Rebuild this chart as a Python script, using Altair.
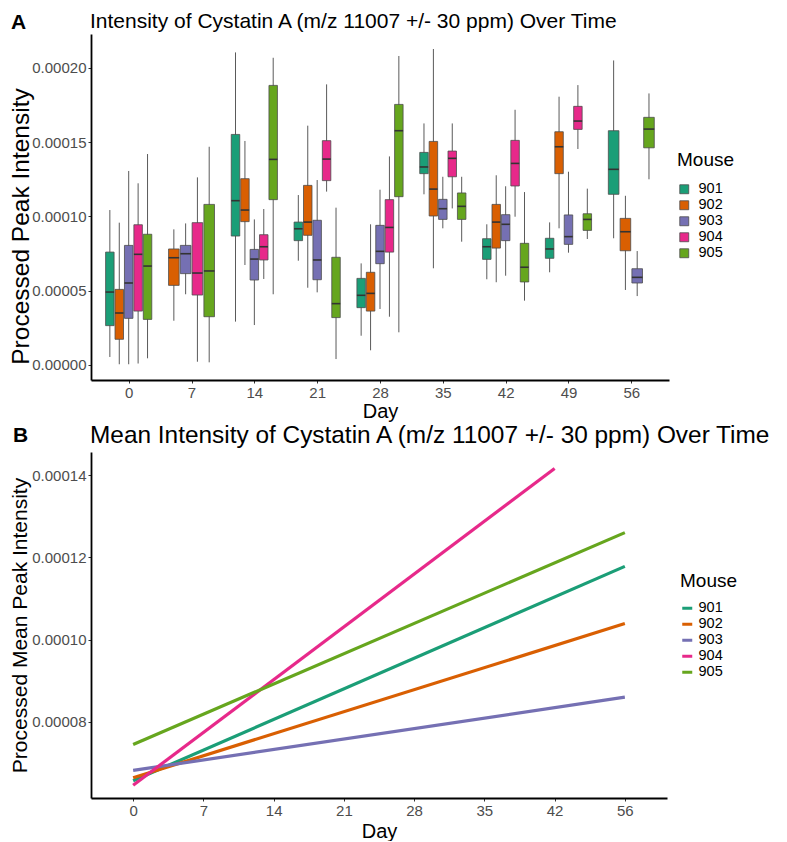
import altair as alt
import pandas as pd

SCALE = 1e-5  # values below are in units of 1e-5
DAYS = [0, 7, 14, 21, 28, 35, 42, 49, 56]
MICE = ["901", "902", "903", "904", "905"]
COLORS = ["#1B9E77", "#D95F02", "#7570B3", "#E7298A", "#66A61E"]

# Box plot statistics, one row per day (DAYS order), columns in MICE order; None = no data
LOWER = [
    [0.54, 0.05, 0.05, 0.10, 0.45],
    [None, 2.98, 4.76, 0.22, 0.18],
    [2.92, 6.73, 2.69, 5.79, 4.76],
    [7.02, 5.20, 4.89, 11.67, 0.40],
    [1.97, 0.99, 3.77, 3.25, 2.20],
    [11.49, 6.51, 9.20, 10.54, 8.30],
    [5.77, 5.57, 6.01, 9.98, 4.33],
    [6.24, 9.20, 7.56, 14.54, 8.48],
    [8.53, 5.05, 4.64, None, 12.50],
]
Q1 = [
    [2.65, 1.73, 3.14, 3.63, 3.07],
    [None, 5.36, 6.15, 4.71, 3.25],
    [8.68, 9.65, 5.72, 7.07, 11.13],
    [8.37, 8.73, 5.74, 12.41, 3.19],
    [3.86, 3.63, 6.82, 7.60, 11.33],
    [12.88, 10.03, 9.80, 12.67, 9.80],
    [7.11, 7.87, 8.37, 12.05, 5.59],
    [7.18, 12.88, 8.12, 15.86, 9.06],
    [11.49, 7.69, 5.52, None, 14.62],
]
MEDIAN = [
    [4.91, 3.50, 5.52, 7.45, 6.66],
    [None, 7.22, 7.49, 6.19, 6.33],
    [11.06, 10.43, 7.13, 7.96, 13.84],
    [9.17, 9.62, 7.07, 13.86, 4.13],
    [4.69, 4.82, 7.65, 9.26, 15.77],
    [13.33, 11.84, 10.52, 13.91, 10.68],
    [7.96, 9.62, 9.47, 13.57, 6.58],
    [7.81, 14.69, 8.64, 16.42, 9.80],
    [13.17, 8.97, 5.90, None, 15.88],
]
Q3 = [
    [7.60, 5.09, 8.05, 9.44, 8.80],
    [None, 7.81, 8.05, 9.58, 10.81],
    [15.52, 12.54, 7.78, 8.77, 18.82],
    [9.62, 12.09, 9.74, 15.10, 7.25],
    [5.83, 6.24, 9.40, 11.13, 17.54],
    [14.31, 15.05, 11.15, 14.40, 11.58],
    [8.50, 10.81, 10.12, 15.12, 8.19],
    [8.53, 15.70, 10.10, 17.41, 10.18],
    [15.77, 9.87, 6.48, None, 16.67],
]
UPPER = [
    [10.43, 9.58, 13.06, 12.23, 14.20],
    [None, 9.13, 9.53, 12.63, 14.69],
    [21.04, 15.08, 9.80, 10.50, 20.68],
    [11.44, 16.11, 12.45, 18.89, 10.59],
    [6.84, 9.47, 11.80, 14.04, 20.80],
    [16.26, 21.27, 12.67, 16.26, 12.67],
    [9.47, 12.77, 12.03, 17.18, 11.64],
    [9.60, 18.06, 13.01, 18.84, 11.87],
    [20.50, 11.39, 7.67, None, 18.28],
]

# Mean-intensity trend lines (panel B): start/end day and value per mouse
LINE_DAY_START = [0, 0, 0, 0, 0]
LINE_DAY_END = [56, 56, 56, 42, 56]
LINE_START = [6.57, 6.64, 6.82, 6.46, 7.45]
LINE_END = [11.78, 10.39, 8.60, 14.16, 12.60]
B_DAYS = [0, 7, 14, 21, 28, 35, 42, 56]

TITLE_A = "Intensity of Cystatin A (m/z 11007 +/- 30 ppm) Over Time"
TITLE_B = "Mean Intensity of Cystatin A (m/z 11007 +/- 30 ppm) Over Time"

FONT = "Liberation Sans"

# ---- build box table (dodged like ggplot: 0.75 of a day slot shared by present mice)
rows = []
for di, day in enumerate(DAYS):
    present = [mi for mi in range(len(MICE)) if MEDIAN[di][mi] is not None]
    n = len(present)
    slot = 0.75 * 7 / n
    for k, mi in enumerate(present):
        c = day + (k - (n - 1) / 2) * slot
        half = slot * 0.9 / 2
        rows.append(dict(
            day=day, mouse=MICE[mi], x=c, x_lo=c - half, x_hi=c + half,
            lo=LOWER[di][mi] * SCALE, q1=Q1[di][mi] * SCALE, med=MEDIAN[di][mi] * SCALE,
            q3=Q3[di][mi] * SCALE, hi=UPPER[di][mi] * SCALE,
        ))
box_df = pd.DataFrame(rows)

line_rows = []
for i, m in enumerate(MICE):
    line_rows.append(dict(mouse=m, day=LINE_DAY_START[i], v=LINE_START[i] * SCALE))
    line_rows.append(dict(mouse=m, day=LINE_DAY_END[i], v=LINE_END[i] * SCALE))
line_df = pd.DataFrame(line_rows)

axis_common = dict(
    domainColor="black", domainWidth=1.8, tickColor="#333333", tickSize=3, tickWidth=1,
    labelColor="#4d4d4d", labelFont=FONT, labelFontSize=15, titleFont=FONT,
    titleColor="black", titleFontWeight="normal", grid=False, labelPadding=2,
)


def text_layer(txt, x, y, size, bold=False):
    return alt.Chart(pd.DataFrame({"t": [txt]})).mark_text(
        font=FONT, fontSize=size, fontWeight="bold" if bold else "normal",
        align="left", baseline="top", color="black",
    ).encode(text="t:N", x=alt.value(x), y=alt.value(y))


NO_FRAME = alt.ViewBackground(stroke="transparent", strokeWidth=0)

xs_a = alt.Scale(domain=[-4.2, 60.2], nice=False, zero=False)
ys_a = alt.Scale(domain=[-1.01e-5, 2.228e-4], nice=False, zero=False)
x_axis_a = alt.Axis(values=DAYS, titleFontSize=20, titlePadding=1, **axis_common)
y_axis_a = alt.Axis(values=[0, 5e-5, 1e-4, 1.5e-4, 2e-4], format=".5f", titleFontSize=24.5,
                    titlePadding=-2, titleY=192, **axis_common)

fill_a = alt.Color(
    "mouse:N",
    scale=alt.Scale(domain=MICE, range=COLORS),
    legend=alt.Legend(
        title="Mouse", orient="none", legendX=586, legendY=117,
        titleFont=FONT, titleFontSize=19, titleFontWeight="normal", titleColor="black",
        titlePadding=12, labelFont=FONT, labelFontSize=14.5, labelColor="black",
        symbolType="square", symbolSize=80, symbolStrokeColor="#4d4d4d",
        symbolStrokeWidth=0.8, rowPadding=1, labelOffset=7,
    ),
)

base_a = alt.Chart(box_df)
whisk = base_a.mark_rule(color="#5a5a5a", strokeWidth=1).encode(
    x=alt.X("x:Q", scale=xs_a, axis=x_axis_a, title="Day"),
    y=alt.Y("lo:Q", scale=ys_a, axis=y_axis_a, title="Processed Peak Intensity"),
    y2="hi:Q",
)
boxes = base_a.mark_rect(stroke="#4d4d4d", strokeWidth=0.8).encode(
    x=alt.X("x_lo:Q", scale=xs_a, axis=x_axis_a, title="Day"),
    x2="x_hi:Q",
    y=alt.Y("q1:Q", scale=ys_a, axis=y_axis_a, title="Processed Peak Intensity"),
    y2="q3:Q",
    fill=fill_a,
)
meds = base_a.mark_rule(color="#333333", strokeWidth=1.6).encode(
    x=alt.X("x_lo:Q", scale=xs_a, axis=x_axis_a, title="Day"),
    x2="x_hi:Q",
    y=alt.Y("med:Q", scale=ys_a, axis=y_axis_a, title="Processed Peak Intensity"),
)

panel_a = alt.layer(
    whisk, boxes, meds,
    text_layer(TITLE_A, -1, -23, 21),
    text_layer("A", -80, -22, 21, bold=True),
).properties(width=578, height=346, view=NO_FRAME)

# ---- panel B
xs_b = alt.Scale(type="point", domain=B_DAYS, padding=0.6)
ys_b = alt.Scale(domain=[6.15e-5, 1.456e-4], nice=False, zero=False)
lines = alt.Chart(line_df).mark_line(strokeWidth=3.2).encode(
    x=alt.X("day:O", scale=xs_b, title="Day",
            axis=alt.Axis(labelAngle=0, titleFontSize=20, titlePadding=3, **axis_common)),
    y=alt.Y("v:Q", scale=ys_b, title="Processed Mean Peak Intensity",
            axis=alt.Axis(values=[8e-5, 1e-4, 1.2e-4, 1.4e-4], format=".5f",
                          titleFontSize=21, titlePadding=1, **axis_common)),
    color=alt.Color(
        "mouse:N",
        scale=alt.Scale(domain=MICE, range=COLORS),
        legend=alt.Legend(
            title="Mouse", orient="none", legendX=589, legendY=120,
            titleFont=FONT, titleFontSize=19, titleFontWeight="normal", titleColor="black",
            titlePadding=10, labelFont=FONT, labelFontSize=14.5, labelColor="black",
            symbolType="stroke", symbolSize=100, symbolStrokeWidth=3,
            rowPadding=1, labelOffset=4,
        ),
    ),
    detail="mouse:N",
)

panel_b = alt.layer(
    lines,
    text_layer(TITLE_B, -1, -28, 24.4),
    text_layer("B", -78, -27, 21, bold=True),
).properties(width=576, height=346, view=NO_FRAME)

chart = (
    alt.vconcat(panel_a, panel_b, spacing=2)
    .resolve_scale(color="independent")
    .properties(padding={"left": 0, "top": 3, "right": 0, "bottom": 0})
    .configure_view(stroke="transparent", strokeWidth=0)
    .configure(background="white")
)

chart.save("out.html", embed_options={"renderer": "svg", "actions": False})
